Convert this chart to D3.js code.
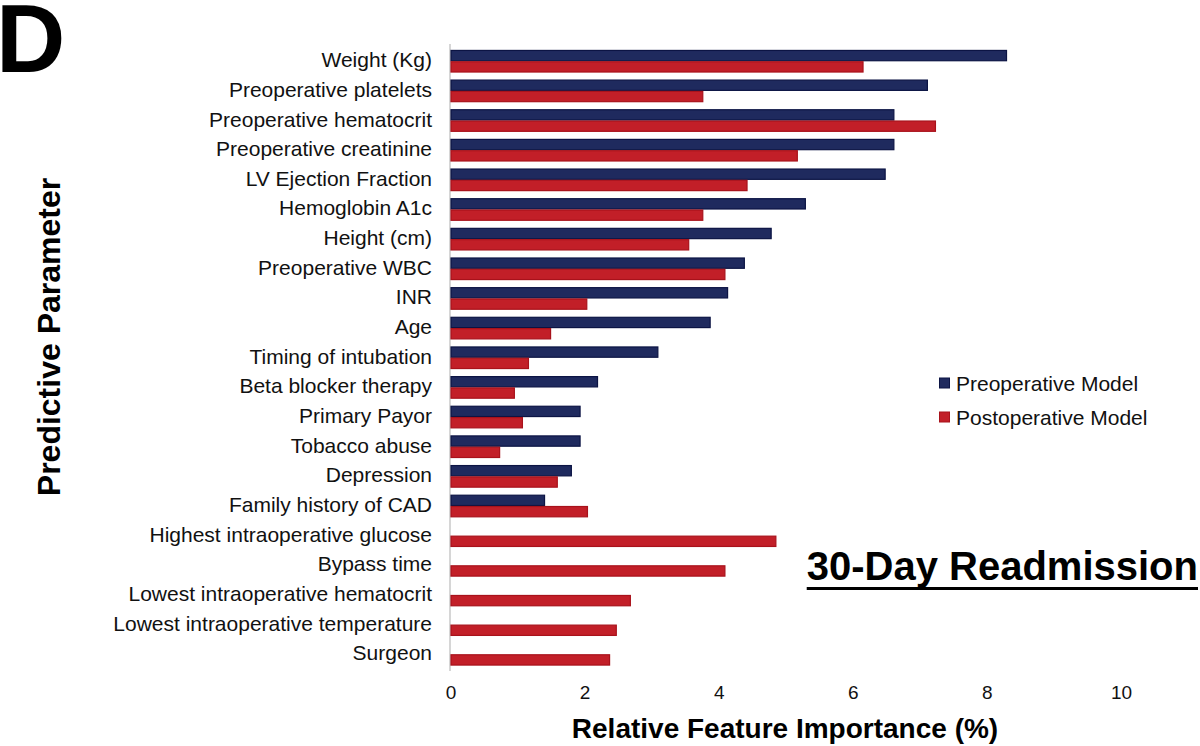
<!DOCTYPE html>
<html>
<head>
<meta charset="utf-8">
<script src="https://cdn.jsdelivr.net/npm/d3@7"></script>
<style>
  html, body { margin: 0; padding: 0; background: #fff; }
  svg { display: block; font-family: "Liberation Sans", Arial, sans-serif; }
</style>
</head>
<body>
<script>
const categories = [
  "Weight (Kg)", "Preoperative platelets", "Preoperative hematocrit", "Preoperative creatinine",
  "LV Ejection Fraction", "Hemoglobin A1c", "Height (cm)", "Preoperative WBC", "INR", "Age",
  "Timing of intubation", "Beta blocker therapy", "Primary Payor", "Tobacco abuse", "Depression",
  "Family history of CAD", "Highest intraoperative glucose", "Bypass time",
  "Lowest intraoperative hematocrit", "Lowest intraoperative temperature", "Surgeon"
];
const preoperative = [8.30, 7.12, 6.62, 6.62, 6.49, 5.30, 4.79, 4.39, 4.14, 3.88,
  3.10, 2.20, 1.94, 1.94, 1.81, 1.41, 0, 0, 0, 0, 0];
const postoperative = [6.16, 3.77, 7.24, 5.18, 4.43, 3.77, 3.56, 4.10, 2.04, 1.50,
  1.17, 0.96, 1.08, 0.74, 1.60, 2.05, 4.86, 4.10, 2.69, 2.48, 2.38];
const seriesNames = ["Preoperative Model", "Postoperative Model"];
const xTicks = [0, 2, 4, 6, 8, 10];

const colors = { fill: ["#1f2a5e", "#c21f28"], stroke: ["#0c1444", "#a8121b"] };

const W = 1200, H = 746;
const svg = d3.select("body").append("svg").attr("width", W).attr("height", H);

const x = d3.scaleLinear().domain([0, 10]).range([450.5, 1121]);
const y = d3.scaleBand().domain(categories).range([46.4, 669.1]).paddingInner(0.238).paddingOuter(0.119);
const sub = d3.scaleBand().domain([0, 1]).range([0, y.bandwidth()]);

// vertical axis line
svg.append("line")
  .attr("x1", x(0) - 0.5).attr("x2", x(0) - 0.5)
  .attr("y1", 44).attr("y2", 671)
  .attr("stroke", "#d6d6d6").attr("stroke-width", 2);

const data = [];
categories.forEach((c, i) => {
  data.push({ c, s: 0, v: preoperative[i] });
  data.push({ c, s: 1, v: postoperative[i] });
});

svg.append("g").selectAll("rect").data(data.filter(d => d.v > 0)).join("rect")
  .attr("x", x(0) + 0.5)
  .attr("y", d => y(d.c) + sub(d.s) + 0.5)
  .attr("width", d => x(d.v) - x(0) - 1)
  .attr("height", sub.bandwidth() - 1)
  .attr("fill", d => colors.fill[d.s])
  .attr("stroke", d => colors.stroke[d.s])
  .attr("stroke-width", 1.2);

// category labels
svg.append("g").selectAll("text").data(categories).join("text")
  .attr("x", 432)
  .attr("y", d => y(d) + y.bandwidth() / 2 - 1.5)
  .attr("text-anchor", "end")
  .attr("dominant-baseline", "central")
  .attr("font-size", 21)
  .attr("fill", "#111")
  .text(d => d);

// x axis tick labels
const xAxis = d3.axisBottom(x).tickValues(xTicks).tickSize(0).tickPadding(0).tickFormat(d3.format("d"));
const gx = svg.append("g").attr("transform", "translate(0,685)").call(xAxis);
gx.select(".domain").remove();
gx.selectAll("text").attr("font-size", 19).attr("fill", "#111")
  .attr("font-family", "Liberation Sans, Arial, sans-serif").attr("dy", "0.71em");

// axis titles
svg.append("text").attr("x", 785).attr("y", 738).attr("text-anchor", "middle")
  .attr("font-size", 28).attr("font-weight", "bold").attr("fill", "#000")
  .text("Relative Feature Importance (%)");
svg.append("text").attr("transform", "translate(60,337) rotate(-90)").attr("text-anchor", "middle")
  .attr("font-size", 32).attr("font-weight", "bold").attr("fill", "#000")
  .text("Predictive Parameter");

// panel letter
svg.append("text").attr("x", -4).attr("y", 72)
  .attr("font-size", 96).attr("font-weight", "bold").attr("fill", "#000").text("D");

// legend
const lg = svg.append("g");
seriesNames.forEach((n, i) => {
  const ly = 383 + i * 34;
  lg.append("rect").attr("x", 939.5).attr("y", ly - 5).attr("width", 10).attr("height", 10)
    .attr("fill", colors.fill[i]).attr("stroke", colors.stroke[i]).attr("stroke-width", 1);
  lg.append("text").attr("x", 956).attr("y", ly).attr("dominant-baseline", "central")
    .attr("font-size", 21).attr("fill", "#111").text(n);
});

// chart title
const title = svg.append("text").attr("x", 1198).attr("y", 580).attr("text-anchor", "end")
  .attr("font-size", 40).attr("font-weight", "bold").attr("fill", "#000")
  .text("30-Day Readmission");
const bb = title.node().getBBox();
svg.append("rect").attr("x", bb.x).attr("y", 587).attr("width", bb.width).attr("height", 3).attr("fill", "#000");
</script>
</body>
</html>
